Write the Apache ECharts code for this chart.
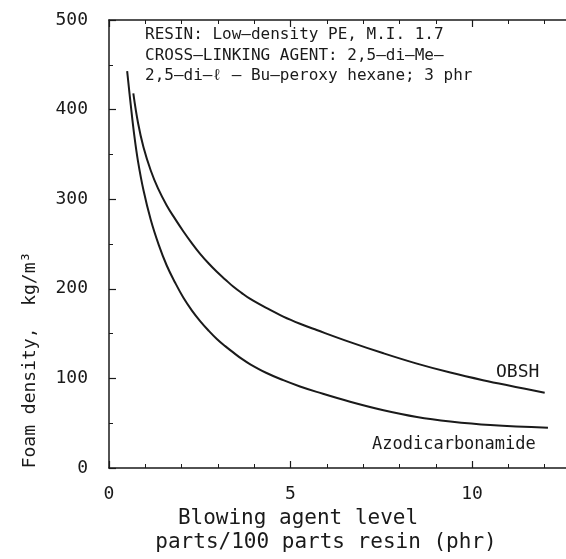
<!DOCTYPE html>
<html><head><meta charset="utf-8">
<script src="https://cdn.jsdelivr.net/npm/echarts@6/dist/echarts.min.js"></script>
<style>html,body{margin:0;padding:0;background:#fff}#c{width:566px;height:559px}</style>
</head><body><div id="c"></div>
<script>
// Data: [blowing agent level (phr), foam density (kg/m3)]
const obshX = [0.67, 0.80, 0.95, 1.15, 1.35, 1.59, 1.82, 2.05, 2.28, 2.51, 2.74, 2.97, 3.20, 3.42, 3.65, 3.88, 4.34, 4.80, 5.26, 5.72, 6.64, 7.56, 8.48, 9.40, 10.3, 11.2, 12.0];
const obshY = [418, 385, 358, 332, 312, 293, 278, 264, 251, 239, 228.5, 219, 210.5, 202.5, 195.5, 189, 178.5, 169, 161, 154, 140.5, 128, 116.5, 106.5, 98, 90.5, 84];
const azoX = [0.50, 0.60, 0.70, 0.80, 0.95, 1.15, 1.37, 1.59, 1.82, 2.05, 2.28, 2.51, 2.74, 2.97, 3.20, 3.42, 3.65, 3.88, 4.34, 4.80, 5.26, 5.72, 6.64, 7.56, 8.48, 9.40, 10.5, 12.09];
const azoY = [443, 405, 370, 342, 310, 277, 249, 226, 207, 190, 176, 164, 153.5, 144, 136, 129, 122, 116, 106, 98, 91, 85, 74, 64.5, 57, 52, 48, 45];
const xTicks = [0, 5, 10];
const yTicks = [0, 100, 200, 300, 400, 500];
const annotation = ['RESIN: Low\u2013density PE, M.I. 1.7', 'CROSS\u2013LINKING AGENT: 2,5\u2013di\u2013Me\u2013', '2,5\u2013di\u2013\u2113 \u2013 Bu\u2013peroxy hexane; 3 phr'];
const seriesNames = ['OBSH', 'Azodicarbonamide'];
const xTitle = ['Blowing agent level', 'parts/100 parts resin (phr)'];
const yTitle = 'Foam density,  kg/m\u00b3';

const FONT = '"DejaVu Sans Mono", "Liberation Mono", monospace';
const INK = '#1a1a1a';
const zip = (xs, ys) => xs.map((x, i) => [x, ys[i]]);

const chart = echarts.init(document.getElementById('c'), null, {renderer: 'canvas'});
const axisCommon = {
  axisLine: {show: true, lineStyle: {color: INK, width: 1.5}},
  axisTick: {show: true, inside: true, length: 7, lineStyle: {color: INK, width: 1.2}},
  minorTick: {show: true, length: 4, lineStyle: {color: INK, width: 1}},
  splitLine: {show: false}
};
chart.setOption({
  animation: false,
  backgroundColor: '#fff',
  grid: {left: 109, top: 20, width: 472, height: 448, outerBoundsMode: 'none', containLabel: false},
  xAxis: [
    Object.assign({}, axisCommon, {
      type: 'value', min: 0, max: 13, interval: 5, position: 'bottom',
      minorTick: Object.assign({}, axisCommon.minorTick, {splitNumber: 5}),
      axisLabel: {color: INK, fontFamily: FONT, fontSize: 18, margin: 17,
        formatter: v => xTicks.includes(v) ? String(v) : ''}
    }),
    Object.assign({}, axisCommon, {
      type: 'value', min: 0, max: 13, interval: 5, position: 'top',
      minorTick: Object.assign({}, axisCommon.minorTick, {splitNumber: 5}),
      axisLabel: {show: false}
    })
  ],
  yAxis: [
    Object.assign({}, axisCommon, {
      type: 'value', min: 0, max: 500, interval: 100,
      minorTick: Object.assign({}, axisCommon.minorTick, {splitNumber: 2}),
      axisLabel: {color: INK, fontFamily: FONT, fontSize: 18, margin: 21,
        formatter: v => yTicks.includes(v) ? String(v) : ''}
    })
  ],
  series: [
    {name: seriesNames[0], type: 'line', smooth: 0.4, symbol: 'none',
     data: zip(obshX, obshY), lineStyle: {color: INK, width: 2}},
    {name: seriesNames[1], type: 'line', smooth: 0.4, symbol: 'none',
     data: zip(azoX, azoY), lineStyle: {color: INK, width: 2}}
  ],
  graphic: [
    {type: 'text', left: 145, top: 25, style: {text: annotation.join('\n'), font: '16px ' + FONT, fill: INK, lineHeight: 20.5}},
    {type: 'text', left: 496, top: 363, style: {text: seriesNames[0], font: '18px ' + FONT, fill: INK}},
    {type: 'text', left: 372, top: 436, style: {text: seriesNames[1], font: '17px ' + FONT, fill: INK}},
    {type: 'text', x: 298, y: 519, style: {text: xTitle[0], font: '21px ' + FONT, fill: INK, align: 'center', verticalAlign: 'middle'}},
    {type: 'text', x: 326, y: 543, style: {text: xTitle[1], font: '21px ' + FONT, fill: INK, align: 'center', verticalAlign: 'middle'}},
    {type: 'text', x: 30, y: 360, rotation: Math.PI / 2, style: {text: yTitle, font: '18px ' + FONT, fill: INK, align: 'center', verticalAlign: 'middle'}}
  ]
});
</script></body></html>
